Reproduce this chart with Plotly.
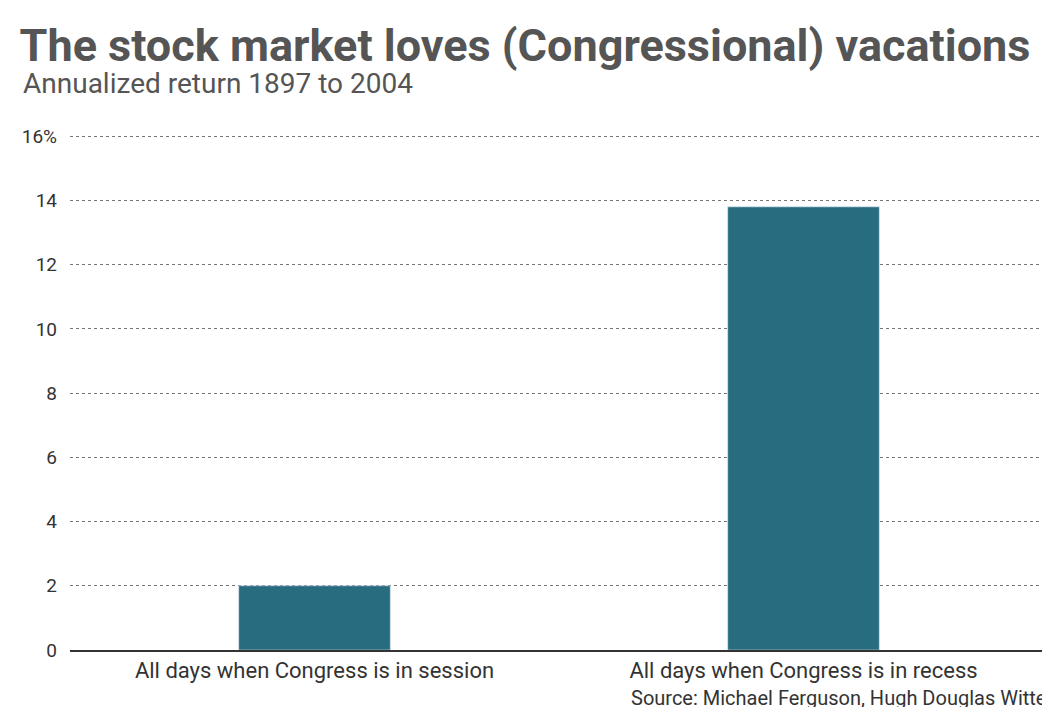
import plotly.graph_objects as go

categories = ['All days when Congress is in session', 'All days when Congress is in recess']
returns = [2.0, 13.8]
tick_vals = [0, 2, 4, 6, 8, 10, 12, 14, 16]
tick_text = ['0', '2', '4', '6', '8', '10', '12', '14', '16%']

font = 'Liberation Sans Narrow, Roboto, Arial'

fig = go.Figure(go.Bar(x=categories, y=returns, marker_color='#286c80', hoverinfo='y'))

fig.update_layout(
    width=1050, height=707,
    margin=dict(l=62, r=10, t=125, b=65),
    plot_bgcolor='white', paper_bgcolor='white',
    bargap=0.69,
    showlegend=False,
    font=dict(family=font, color='#333333'),
    title=dict(text='<b>The stock market loves (Congressional) vacations</b>',
               x=0.011, xanchor='left', y=0.97, yanchor='top',
               font=dict(size=45, color='#555555', family=font)),
    annotations=[
        dict(text='Annualized return 1897 to 2004', x=-0.05, y=1.06, xref='paper', yref='paper',
             xanchor='left', yanchor='bottom', showarrow=False,
             font=dict(size=28, color='#555555', family=font)),
        dict(text='Source: Michael Ferguson, Hugh Douglas Witte', x=1, y=-0.093, xref='paper', yref='paper',
             xanchor='right', yanchor='middle', showarrow=False,
             font=dict(size=20, color='#333333', family=font)),
    ],
)
fig.update_xaxes(tickfont=dict(size=22, color='#333333', family=font), ticks='', showline=True,
                 linecolor='#333333', linewidth=1.5)
fig.update_yaxes(range=[0, 16.1], tickvals=tick_vals, ticktext=tick_text, showgrid=True,
                 gridcolor='#777777', griddash='dot', gridwidth=1, zeroline=False,
                 tickfont=dict(size=19, color='#333333', family=font), ticklabelstandoff=12)

fig.write_html('out.html')
